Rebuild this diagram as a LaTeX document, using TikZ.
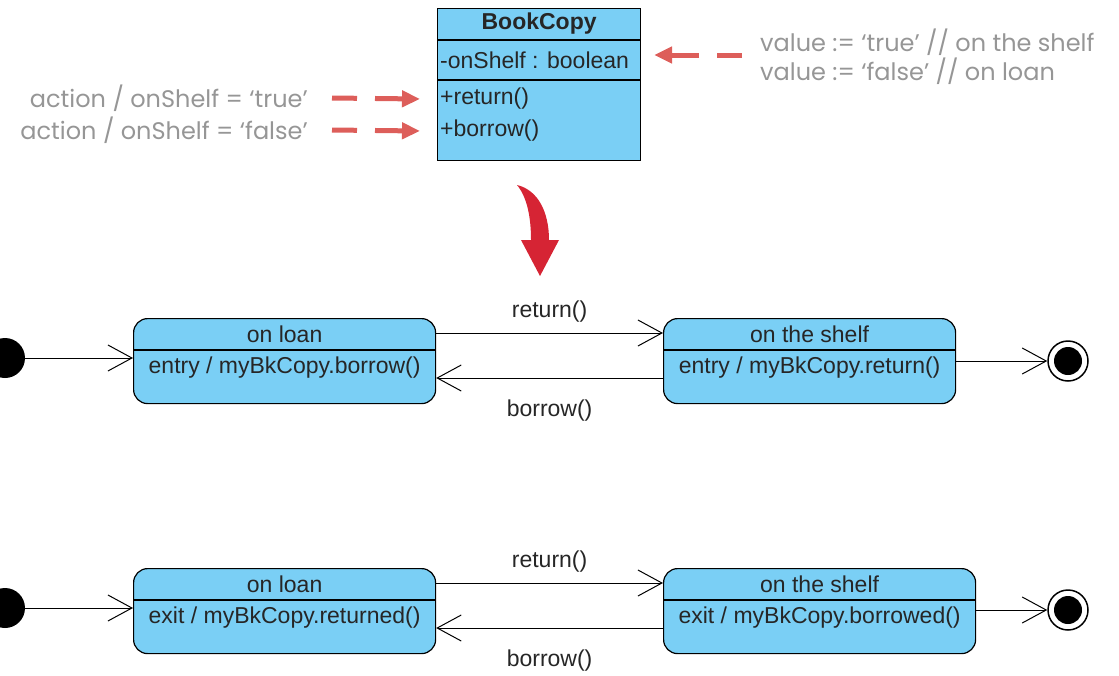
\documentclass[tikz,border=0pt]{standalone}
\usepackage{fontspec}
\setmainfont{Liberation Sans}
\newfontfamily\notefont{Poppins}
\usetikzlibrary{calc, positioning, arrows.meta}
\definecolor{stateblue}{RGB}{122,207,245}
\definecolor{hintred}{RGB}{221,94,90}
\definecolor{bigred}{RGB}{214,36,52}
\definecolor{notegray}{RGB}{150,150,150}

\begin{document}
\begin{tikzpicture}[x=1pt, y=-1pt,
    box/.style={draw, line width=1.2pt, fill=stateblue, anchor=north west, inner sep=0pt},
    state/.style={box, rounded corners=14pt, minimum height=85pt},
    txt/.style={font=\fontsize{23}{26}\selectfont, text=black!85, inner sep=0pt},
    note/.style={font=\notefont\fontsize{24}{28}\selectfont, text=notegray, inner sep=0pt},
    trans/.style={-{Straight Barb[length=24pt, width=26pt, line width=1pt]}, line width=1pt},
    hint/.style={hintred, line width=5pt, dash pattern=on 25pt off 18pt on 60pt, -{Triangle[length=18pt, width=16pt]}},
    startdot/.style={circle, fill=black, minimum size=40pt, inner sep=0pt},
    enddot/.style={circle, draw, line width=1.5pt, fill=white, minimum size=40pt, inner sep=0pt,
      path picture={\fill[black] (path picture bounding box.center) circle (14pt);}}]
  \useasboundingbox (0,0) rectangle (1119,675);
  % class %
  \node[box, minimum width=203pt, minimum height=152pt] (bookCopy) at (437,8) {};
  \draw[line width=1.2pt] ([yshift=-32pt]bookCopy.north west) -- ([yshift=-32pt]bookCopy.north east);
  \draw[line width=1.2pt] ([yshift=-72pt]bookCopy.north west) -- ([yshift=-72pt]bookCopy.north east);
  \node[txt, font=\bfseries\fontsize{23}{26}\selectfont] (className) at ([yshift=-16pt]bookCopy.north) {BookCopy};
  \node[txt, anchor=west] (attrOnShelf) at (440,60) {-onShelf : boolean};
  \node[txt, anchor=west] (opReturn) at (440,99) {+return()};
  \node[txt, anchor=west] (opBorrow) at (440,131) {+borrow()};
  % notes %
  \node[note, anchor=east] (actTrue) at (308,98) {action / onShelf = ‘true’};
  \node[note, anchor=east] (actFalse) at (308,130) {action / onShelf = ‘false’};
  \node[note, anchor=west] (valTrue) at (760,42) {value := ‘true’ // on the shelf};
  \node[note, anchor=west] (valFalse) at (760,71) {value := ‘false’ // on loan};
  \coordinate (valArrow) at (742,55);
  \draw[hint] ([xshift=24pt]actTrue.east) -- ([xshift=-20pt]opReturn.west);
  \draw[hint] ([xshift=24pt]actFalse.east) -- ([xshift=-20pt]opBorrow.west);
  \draw[hint] (valArrow) -- ([xshift=13pt]bookCopy.east |- valArrow);
  % big arrow %
  \fill[bigred] (517,185) .. controls (538,190) and (549,212) .. (549,240) -- (559,240) -- (540,276)
    -- (521,240) -- (531,240) .. controls (531,217) and (527,197) .. (517,185) -- cycle;
  % entry row %
  \node[state, minimum width=302pt] (loanA) at (133,318) {};
  \node[state, minimum width=292pt] (shelfA) at (663,318) {};
  \draw[line width=1.2pt] ([yshift=-32pt]loanA.north west) -- ([yshift=-32pt]loanA.north east);
  \draw[line width=1.2pt] ([yshift=-32pt]shelfA.north west) -- ([yshift=-32pt]shelfA.north east);
  \node[txt] (loanAname) at ([yshift=-16pt]loanA.north) {on loan};
  \node[txt] (loanAact) at ([yshift=-50pt]loanA.north) {entry / myBkCopy.borrow()};
  \node[txt] (shelfAname) at ([yshift=-16pt]shelfA.north) {on the shelf};
  \node[txt] (shelfAact) at ([yshift=-50pt]shelfA.north) {entry / myBkCopy.return()};
  \node[startdot] (startA) at (5,358) {};
  \node[enddot] (endA) at (1068,361) {};
  \draw[trans] (startA) -- (startA -| loanA.west);
  \draw[trans] ([yshift=-15pt]loanA.north east) -- ([yshift=-15pt]shelfA.north west)
    node[txt, midway, above=10pt] {return()};
  \draw[trans] ([yshift=-60pt]shelfA.north west) -- ([yshift=-60pt]loanA.north east)
    node[txt, midway, below=21pt] {borrow()};
  \draw[trans] (shelfA.east |- endA) -- (endA);
  % exit row %
  \node[state, minimum width=302pt] (loanB) at (133,568) {};
  \node[state, minimum width=312pt] (shelfB) at (663,568) {};
  \draw[line width=1.2pt] ([yshift=-32pt]loanB.north west) -- ([yshift=-32pt]loanB.north east);
  \draw[line width=1.2pt] ([yshift=-32pt]shelfB.north west) -- ([yshift=-32pt]shelfB.north east);
  \node[txt] (loanBname) at ([yshift=-16pt]loanB.north) {on loan};
  \node[txt] (loanBact) at ([yshift=-50pt]loanB.north) {exit / myBkCopy.returned()};
  \node[txt] (shelfBname) at ([yshift=-16pt]shelfB.north) {on the shelf};
  \node[txt] (shelfBact) at ([yshift=-50pt]shelfB.north) {exit / myBkCopy.borrowed()};
  \node[startdot] (startB) at (5,608) {};
  \node[enddot] (endB) at (1068,610) {};
  \draw[trans] (startB) -- (startB -| loanB.west);
  \draw[trans] ([yshift=-15pt]loanB.north east) -- ([yshift=-15pt]shelfB.north west)
    node[txt, midway, above=10pt] {return()};
  \draw[trans] ([yshift=-60pt]shelfB.north west) -- ([yshift=-60pt]loanB.north east)
    node[txt, midway, below=21pt] {borrow()};
  \draw[trans] (shelfB.east |- endB) -- (endB);
\end{tikzpicture}
\end{document}
